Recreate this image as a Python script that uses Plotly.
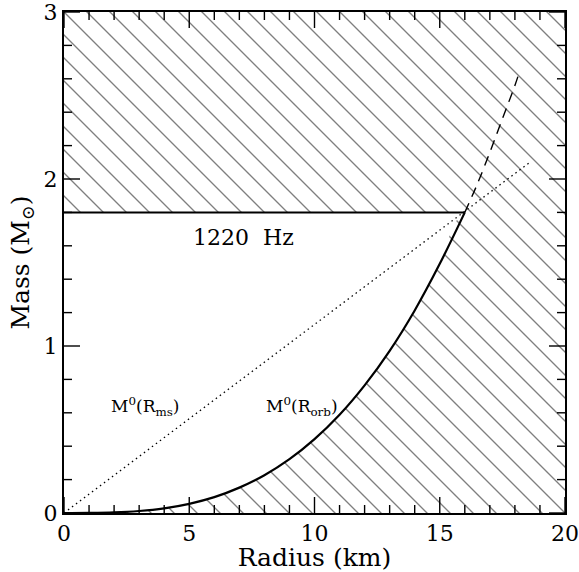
import math
import plotly.graph_objects as go

# Orbital-frequency limit curve M0(R_orb) (km, solar masses)
r_orb = [0, 1, 2, 3, 4, 5, 6, 7, 8, 9, 10, 11, 12, 13, 14, 15, 16]
m_orb = [0, 0.0004, 0.0035, 0.012, 0.028, 0.055, 0.095, 0.152, 0.226, 0.322,
         0.442, 0.588, 0.764, 0.971, 1.213, 1.492, 1.80]
# dashed continuation above the 1.8 Msun line
r_orb_ext = [16, 16.5, 17, 17.5, 18, 18.2]
m_orb_ext = [1.80, 1.97, 2.16, 2.36, 2.56, 2.65]
# marginally stable orbit line M0(R_ms)
r_ms = [0, 18.6]
m_ms = [0, 2.10]
# maximum mass line
m_max = 1.8
r_max_line = [0, 16]

x_range = [0, 20]
y_range = [0, 3]
x_major = [0, 5, 10, 15, 20]
x_minor = [1, 2, 3, 4, 6, 7, 8, 9, 11, 12, 13, 14, 16, 17, 18, 19]
y_major = [0, 1, 2, 3]
y_minor = [0.2, 0.4, 0.6, 0.8, 1.2, 1.4, 1.6, 1.8, 2.2, 2.4, 2.6, 2.8]

W, H = 579, 572
MARGIN = dict(l=64, r=14, t=12, b=59)
plot_w = W - MARGIN["l"] - MARGIN["r"]
plot_h = H - MARGIN["t"] - MARGIN["b"]
MAJOR_PX, MINOR_PX = 16, 8

FONT = "DejaVu Serif"
hatch = dict(shape="\\", size=23 / math.sqrt(2), solidity=0.085,
             fgcolor="black", bgcolor="white")

fig = go.Figure()
fig.add_trace(go.Scatter(
    x=[x_range[0], x_range[1], x_range[1], x_range[0], x_range[0]],
    y=[m_max, m_max, y_range[1], y_range[1], m_max],
    mode="lines", line=dict(width=0), fill="toself",
    fillcolor="white", fillpattern=hatch, hoverinfo="skip"))
fig.add_trace(go.Scatter(
    x=r_orb + [x_range[1], x_range[1], 0],
    y=m_orb + [m_max, 0, 0],
    mode="lines", line=dict(width=0, shape="spline"), fill="toself",
    fillcolor="white", fillpattern=hatch, hoverinfo="skip"))
fig.add_trace(go.Scatter(x=r_max_line, y=[m_max, m_max], mode="lines",
                         line=dict(color="black", width=2)))
fig.add_trace(go.Scatter(x=r_orb, y=m_orb, mode="lines",
                         line=dict(color="black", width=2.2, shape="spline")))
fig.add_trace(go.Scatter(x=r_orb_ext, y=m_orb_ext, mode="lines",
                         line=dict(color="black", width=1.4, dash="10px,7px",
                                   shape="spline")))
fig.add_trace(go.Scatter(x=r_ms, y=m_ms, mode="lines",
                         line=dict(color="black", width=1.3, dash="1.5px,3.5px")))

# inside tick marks on all four sides, built from the tick value lists
dy_px = (y_range[1] - y_range[0]) / plot_h
dx_px = (x_range[1] - x_range[0]) / plot_w
for vals, ln in ((x_major, MAJOR_PX), (x_minor, MINOR_PX)):
    for ybase, sgn in ((y_range[0], 1), (y_range[1], -1)):
        tx, ty = [], []
        for v in vals:
            tx += [v, v, None]
            ty += [ybase, ybase + sgn * ln * dy_px, None]
        fig.add_trace(go.Scatter(x=tx, y=ty, mode="lines", connectgaps=False,
                                 line=dict(color="black", width=1.4), hoverinfo="skip"))
for vals, ln in ((y_major, MAJOR_PX), (y_minor, MINOR_PX)):
    for xbase, sgn in ((x_range[0], 1), (x_range[1], -1)):
        tx, ty = [], []
        for v in vals:
            tx += [xbase, xbase + sgn * ln * dx_px, None]
            ty += [v, v, None]
        fig.add_trace(go.Scatter(x=tx, y=ty, mode="lines", connectgaps=False,
                                 line=dict(color="black", width=1.4), hoverinfo="skip"))

fig.add_annotation(x=7.16, y=1.65, text="1220  Hz", showarrow=False,
                   font=dict(family=FONT, size=22, color="black"))
fig.add_annotation(x=3.23, y=0.64, text="M<sup>0</sup>(R<sub>ms</sub>)", showarrow=False,
                   font=dict(family=FONT, size=17, color="black"))
fig.add_annotation(x=9.49, y=0.64, text="M<sup>0</sup>(R<sub>orb</sub>)", showarrow=False,
                   font=dict(family=FONT, size=17, color="black"))
fig.add_annotation(xref="paper", yref="paper", x=(21 - MARGIN["l"]) / plot_w, y=0.5,
                   xanchor="center", yanchor="middle", textangle=-90,
                   text="Mass (M<sub>⊙</sub>)", showarrow=False,
                   font=dict(family=FONT, size=25, color="black"))

axis_common = dict(showgrid=False, zeroline=False, showline=True, linecolor="black",
                   linewidth=2, mirror=True, ticks="inside", ticklen=1,
                   tickcolor="rgba(0,0,0,0)", automargin=False,
                   ticklabeloverflow="allow", tickmode="linear", tick0=0,
                   tickfont=dict(family=FONT, size=22, color="black"))

fig.update_xaxes(range=x_range, dtick=5,
                 title=dict(text="Radius (km)", font=dict(family=FONT, size=25, color="black"),
                            standoff=0),
                 **axis_common)
fig.update_yaxes(range=y_range, dtick=1, **axis_common)

fig.update_layout(width=W, height=H, showlegend=False,
                  plot_bgcolor="white", paper_bgcolor="white",
                  margin=MARGIN)

fig.write_html("out.html")
